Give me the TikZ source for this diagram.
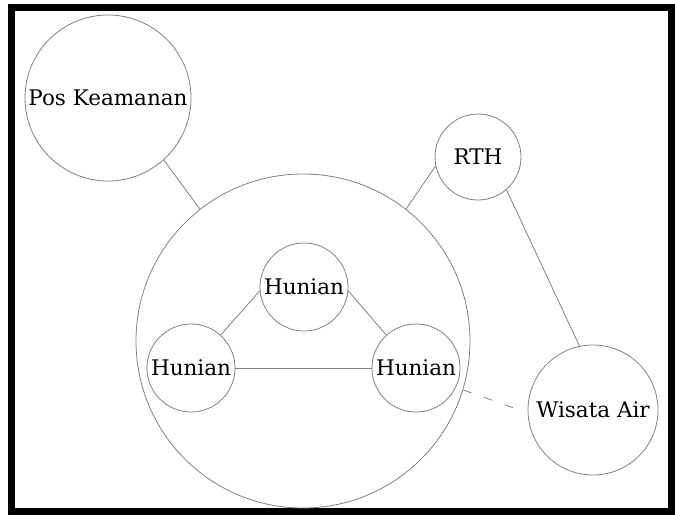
\documentclass[tikz,border=0pt]{standalone}
\usepackage{fontspec}
\setmainfont{DejaVu Serif}
\begin{document}
\begin{tikzpicture}[x=1pt,y=-1pt,
  place/.style={circle,draw=black!50,line width=0.8pt,inner sep=0pt,
    font=\fontsize{21.5}{25}\selectfont,text=black},
  link/.style={draw=black!50,line width=0.8pt}]
\useasboundingbox (0,0) rectangle (675,515);
\draw[line width=7pt] (11.5,7.5) rectangle (671.5,511.5);
\node[place,minimum size=166pt] (pos) at (108,98) {Pos Keamanan};
\node[place,minimum size=334pt] (big) at (303,341) {};
\node[place,minimum size=86pt] (rth) at (478,157) {RTH};
\node[place,minimum size=130pt] (wis) at (593,410) {Wisata Air};
\node[place,minimum size=88pt] (ht) at (304,287) {Hunian};
\node[place,minimum size=88pt] (hl) at (191,368) {Hunian};
\node[place,minimum size=88pt] (hr) at (416,368) {Hunian};
\draw[link] (pos.-48) -- (big.128);
\draw[link] (big.52.6) -- (rth.192);
\draw[link] (rth.-49) -- (wis.102);
\draw[link,dash pattern=on 9pt off 13pt] (big.-17.6) -- ([xshift=-8pt]wis.west);
\draw[link] (ht.185) -- (hl.48);
\draw[link] (ht.-5) -- (hr.132);
\draw[link] (hl.east) -- (hr.west);
\end{tikzpicture}
\end{document}
